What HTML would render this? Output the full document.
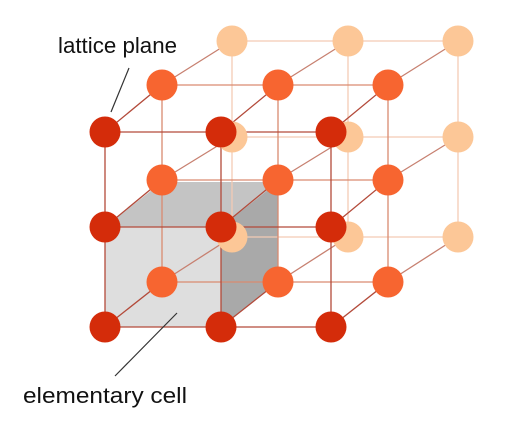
<!DOCTYPE html>
<html><head><meta charset="utf-8"><style>
html,body{margin:0;padding:0;background:#fff}
svg{display:block}
text{font-family:"Liberation Sans",sans-serif;font-size:22px;fill:#111}
</style></head><body>
<svg id="s" width="516" height="423">
<g id="cell">
<polygon points="105,227 221,227 278,182 162,182" fill="#c4c4c4"/>
<polygon points="221,227 278,182 278,282 221,327" fill="#a9a9a9"/>
<rect x="105" y="227" width="116" height="100" fill="#dedede"/>
</g>
<g id="lines"></g>
<g id="atoms"></g>
<text x="58" y="53" textLength="119" lengthAdjust="spacingAndGlyphs">lattice plane</text>
<line x1="129" y1="68" x2="111" y2="112" stroke="#333" stroke-width="1.2"/>
<text x="23" y="403" textLength="164" lengthAdjust="spacingAndGlyphs">elementary cell</text>
<line x1="115" y1="376" x2="177" y2="313" stroke="#333" stroke-width="1.2"/>
</svg>
<script>
const layersX=[[105,221,331],[162,278,388],[232,348,458]];
const layersY=[[132,227,327],[85,180,282],[41,137,237]];
const fills=["#d42c0a","#f76530","#fcc797"];
const strokes=["#b34a3a","#d98a70","#f3cbb5"];
const NS="http://www.w3.org/2000/svg";
const L=document.getElementById('lines'),A=document.getElementById('atoms');
function ln(x1,y1,x2,y2,c){const e=document.createElementNS(NS,'line');
e.setAttribute('x1',x1);e.setAttribute('y1',y1);e.setAttribute('x2',x2);e.setAttribute('y2',y2);
e.setAttribute('stroke',c);e.setAttribute('stroke-width',1.3);


L.appendChild(e);}
for(let l=2;l>=0;l--){
  const X=layersX[l],Y=layersY[l];
  for(let i=0;i<3;i++){ln(X[0],Y[i],X[2],Y[i],strokes[l]);ln(X[i],Y[0],X[i],Y[2],strokes[l]);}
  if(l<2){const X2=layersX[l+1],Y2=layersY[l+1];
    for(let i=0;i<3;i++)for(let j=0;j<3;j++)ln(X[i],Y[j],X2[i],Y2[j],l==0?"#b34a3a":"#c78070");}
}
for(let l=2;l>=0;l--){
  for(let i=0;i<3;i++)for(let j=0;j<3;j++){
    const c=document.createElementNS(NS,'circle');
    c.setAttribute('cx',layersX[l][i]);c.setAttribute('cy',layersY[l][j]);c.setAttribute('r',15.5);c.setAttribute('fill',fills[l]);
    
    
    A.appendChild(c);
  }
}
</script>
</body></html>
